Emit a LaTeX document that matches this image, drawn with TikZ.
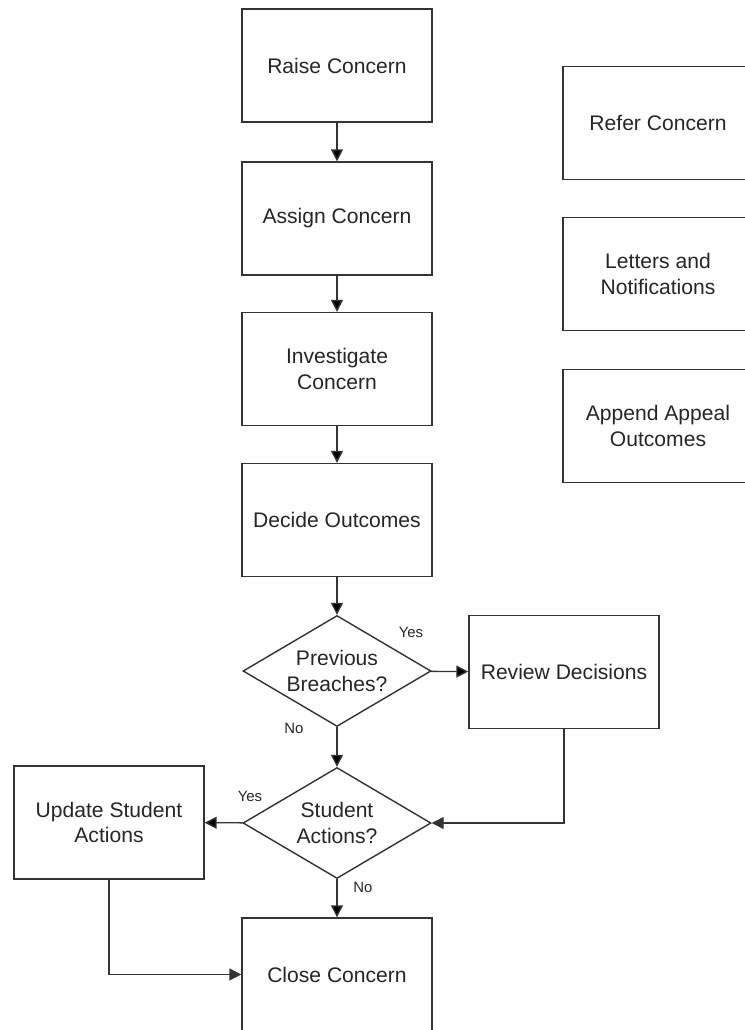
\documentclass[tikz,border=0pt]{standalone}
\usepackage{fontspec}
\setmainfont{Liberation Sans}
\usetikzlibrary{shapes,arrows.meta}

\begin{document}
\begin{tikzpicture}[line width=0.8pt, ->, >={Triangle[length=0.24cm,width=0.24cm]},
  box/.style={draw=black!80,text=black!85,rectangle,inner sep=0pt,minimum width=3.8cm,minimum height=2.26cm,align=center,font=\fontsize{12}{14.5}\selectfont},
  decision/.style={draw=black!80,text=black!85,diamond,shape aspect=1.7,inner sep=0pt,minimum width=3.76cm,minimum height=2.22cm,align=center,font=\fontsize{12}{14.5}\selectfont},
  answer/.style={text=black!85,font=\fontsize{8.5}{10}\selectfont},
  flow/.style={draw=black!80}]
  \useasboundingbox (0,0) rectangle (14.9,-20.6);

  \node [box] (raise)   at (6.74, -1.31) {Raise Concern};
  \node [box] (assign)  at (6.74, -4.37) {Assign Concern};
  \node [box] (invest)  at (6.74, -7.38) {Investigate\\Concern};
  \node [box] (decide)  at (6.74,-10.40) {Decide Outcomes};
  \node [decision] (breach) at (6.74,-13.42) {Previous\\Breaches?};
  \node [box] (review)  at (11.28,-13.44) {Review Decisions};
  \node [decision] (actions) at (6.74,-16.46) {Student\\Actions?};
  \node [box] (update)  at (2.18,-16.45) {Update Student\\Actions};
  \node [box] (close)   at (6.74,-19.49) {Close Concern};

  \node [box] (refer)   at (13.16,-2.46) {Refer Concern};
  \node [box] (letters) at (13.16,-5.48) {Letters and\\Notifications};
  \node [box] (appeal)  at (13.16,-8.52) {Append Appeal\\Outcomes};

  \path [flow] (raise) edge (assign);
  \path [flow] (assign) edge (invest);
  \path [flow] (invest) edge (decide);
  \path [flow] (decide) edge (breach);
  \path [flow] (breach) edge (review);
  \path [flow] (breach) edge (actions);
  \path [flow] (actions) edge (update);
  \path [flow] (actions) edge (close);
  \draw [flow] (review.south) |- (actions.east);
  \draw [flow] (update.south) |- (close.west);

  \node [answer] (yes1) at (8.22,-12.64) {Yes};
  \node [answer] (no1)  at (5.88,-14.56) {No};
  \node [answer] (yes2) at (5.00,-15.92) {Yes};
  \node [answer] (no2)  at (7.26,-17.74) {No};
\end{tikzpicture}
\end{document}
